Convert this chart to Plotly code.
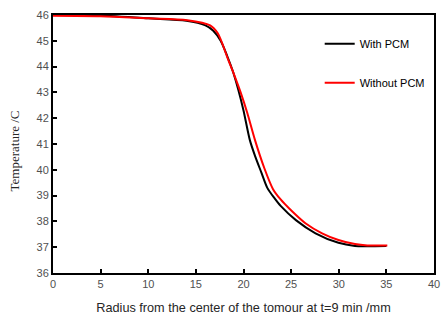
import plotly.graph_objects as go

# With PCM (black)
x_with = [0, 5, 10, 14, 16, 16.8, 17.6, 18.3, 18.9, 19.46, 20.0, 20.66, 21.2, 21.87, 22.5, 23.25, 23.9, 25.5, 27.56, 29.97, 31.7, 33, 35]
t_with = [46.0, 45.98, 45.87, 45.78, 45.6, 45.4, 45.0, 44.4, 43.8, 43.09, 42.3, 41.16, 40.55, 39.9, 39.3, 38.9, 38.6, 38.05, 37.54, 37.17, 37.05, 37.04, 37.05]

# Without PCM (red)
x_without = [0, 5, 10, 14.1, 16.5, 17.3, 18.4, 19.0, 19.7, 20.4, 21.2, 22.2, 23.1, 23.9, 24.8, 26.5, 28.25, 29.97, 31.7, 33, 35.1]
t_without = [45.97, 45.95, 45.87, 45.8, 45.6, 45.29, 44.26, 43.7, 43.0, 42.2, 41.16, 40.05, 39.25, 38.85, 38.5, 37.93, 37.54, 37.28, 37.12, 37.07, 37.07]

x_ticks = [0, 5, 10, 15, 20, 25, 30, 35, 40]
y_ticks = [36, 37, 38, 39, 40, 41, 42, 43, 44, 45, 46]

fig = go.Figure()
fig.add_trace(go.Scatter(x=x_with, y=t_with, mode="lines", name="With PCM",
                         line=dict(color="black", width=2, shape="spline", smoothing=0.8),
                         legendgroup="a"))
fig.add_trace(go.Scatter(x=x_without, y=t_without, mode="lines", name="Without PCM",
                         line=dict(color="#ff0000", width=2, shape="spline", smoothing=0.8),
                         legendgroup="b"))

tickfont = dict(family="Liberation Sans", size=11, color="#505050")
fig.update_layout(
    width=445, height=320,
    margin=dict(l=53, r=5, t=15, b=47),
    paper_bgcolor="white", plot_bgcolor="white",
    showlegend=True,
    legend=dict(x=0.7, y=0.945, xanchor="left", yanchor="top",
                tracegroupgap=20, itemwidth=30,
                font=dict(family="Liberation Sans", size=11, color="black"),
                bgcolor="rgba(0,0,0,0)"),
    xaxis=dict(range=[0, 40], tickvals=x_ticks, ticks="inside", ticklen=4,
               tickwidth=1.5, tickcolor="black", showgrid=False, zeroline=False,
               showline=True, linecolor="black", linewidth=2, mirror=True,
               tickfont=tickfont,
               title=dict(text="Radius from the center of the tomour at t=9 min /mm",
                          font=dict(family="Liberation Sans", size=12.7, color="#262626"),
                          standoff=14)),
    yaxis=dict(range=[36, 46], tickvals=y_ticks, ticks="inside", ticklen=4,
               tickwidth=1.5, tickcolor="black", showgrid=False, zeroline=False,
               showline=True, linecolor="black", linewidth=2, mirror=True,
               tickfont=tickfont),
    annotations=[dict(text="Temperature /C", textangle=-90, showarrow=False,
                      xref="paper", yref="paper", x=-0.101, y=0.473,
                      xanchor="center", yanchor="middle",
                      font=dict(family="Liberation Serif", size=13, color="#262626"))],
)

fig.write_html("out.html")
